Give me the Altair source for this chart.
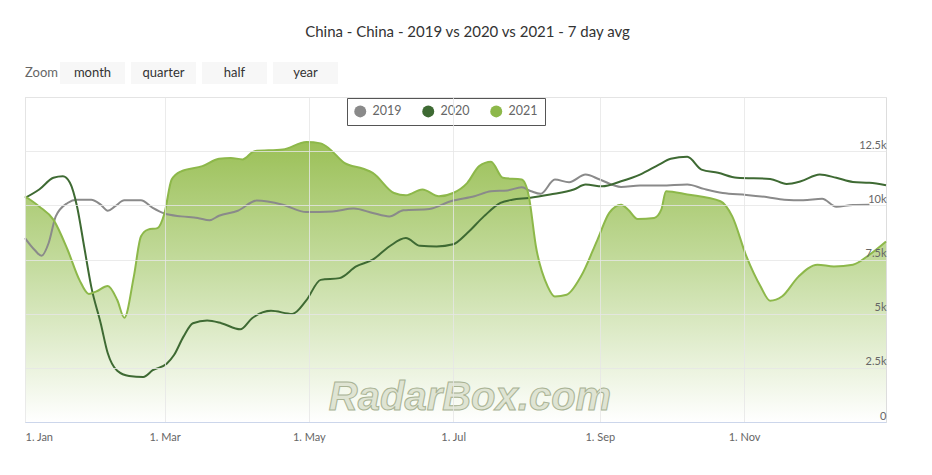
import altair as alt
import pandas as pd

TITLE = "China - China - 2019 vs 2020 vs 2021 - 7 day avg"
SERIES = ["2019", "2020", "2021"]
COLORS = ["#8a8a8a", "#3e6a33", "#8db84a"]
BASE_DATE = "2021-01-01"

# day offsets from 1 Jan and 7-day average flight counts
DAYS_2019 = [0, 4, 7, 10, 13, 18, 22, 28, 32, 35, 38, 42, 49, 54, 59, 66, 73, 78, 82, 90,
             98, 109, 119, 130, 139, 147, 154, 160, 171, 180, 190, 197, 204, 210, 214, 218,
             224, 230, 237, 243, 252, 260, 269, 280, 287, 295, 305, 314, 321, 329, 337, 343,
             350, 357]
VALS_2019 = [8490, 7950, 7670, 8260, 9490, 10110, 10260, 10260, 10030, 9750, 9950, 10230,
             10230, 9880, 9620, 9490, 9420, 9310, 9520, 9750, 10220, 10030, 9690, 9720, 9850,
             9650, 9490, 9770, 9830, 10190, 10420, 10650, 10690, 10830, 10650, 10530, 11190,
             11070, 11420, 11190, 10850, 10910, 10910, 10960, 10760, 10570, 10480, 10370,
             10260, 10230, 10300, 9930, 10020, 10030]

DAYS_2020 = [0, 6, 12, 16, 19, 22, 25, 28, 32, 35, 39, 44, 50, 54, 60, 63, 67, 71, 77, 83,
             91, 96, 104, 113, 119, 125, 133, 140, 147, 154, 161, 167, 174, 181, 187, 194,
             201, 206, 213, 222, 232, 237, 244, 252, 260, 268, 273, 280, 286, 293, 301, 315,
             322, 328, 336, 343, 350, 357, 364]
VALS_2020 = [10340, 10730, 11270, 11340, 11040, 9950, 8100, 6250, 4560, 3170, 2360, 2120,
             2080, 2390, 2700, 3090, 3940, 4560, 4680, 4560, 4280, 4790, 5130, 4990, 5630,
             6560, 6640, 7180, 7490, 8100, 8490, 8130, 8100, 8200, 8720, 9490, 10110, 10260,
             10340, 10500, 10730, 10960, 10880, 11110, 11420, 11880, 12150, 12240, 11650,
             11500, 11270, 11220, 10990, 11110, 11420, 11270, 11080, 11040, 10930]

DAYS_2021 = [0, 6, 12, 18, 23, 27, 30, 35, 39, 42, 46, 49, 52, 56, 59, 62, 66, 75, 82, 87,
             92, 97, 109, 119, 125, 129, 135, 143, 147, 156, 161, 168, 175, 181, 187, 192,
             197, 202, 210, 213, 216, 221, 224, 229, 235, 242, 247, 252, 255, 259, 266, 269,
             271, 280, 294, 299, 305, 311, 315, 320, 327, 335, 342, 350, 357, 364]
VALS_2021 = [10420, 9950, 9340, 7950, 6560, 5910, 6020, 6280, 5630, 4810, 6710, 8560, 8880,
             8950, 9650, 11190, 11570, 11810, 12150, 12190, 12120, 12500, 12580, 12920, 12860,
             12580, 11960, 11690, 11500, 10570, 10460, 10730, 10420, 10570, 11040, 11810,
             12010, 11270, 11190, 10420, 8100, 6250, 5790, 5870, 6710, 8410, 9650, 10030,
             9800, 9370, 9420, 9800, 10650, 10500, 10190, 9490, 7640, 6250, 5600, 5790, 6710,
             7260, 7180, 7260, 7720, 8330]

X_TICK_MONTHS = [1, 3, 5, 7, 9, 11]
Y_TICKS = [0, 2500, 5000, 7500, 10000, 12500, 15000]
ZOOM_LABEL = "Zoom"
ZOOM_BUTTONS = ["month", "quarter", "half", "year"]
WATERMARK = "RadarBox.com"


def frame(name, days, vals):
    base = pd.Timestamp(BASE_DATE)
    return pd.DataFrame({
        "series": name,
        "date": [base + pd.Timedelta(days=d) for d in days],
        "value": vals,
    })


df = pd.concat([
    frame("2019", DAYS_2019, VALS_2019),
    frame("2020", DAYS_2020, VALS_2020),
    frame("2021", DAYS_2021, VALS_2021),
], ignore_index=True)
df21 = df[df["series"] == "2021"]

FONT = "Lato"
W, H = 861, 325

x_scale = alt.Scale(domain=[alt.DateTime(year=2021, month=1, date=1),
                            alt.DateTime(year=2021, month=12, date=31)])
y_scale = alt.Scale(domain=[0, 15000], nice=False)

x_axis = alt.Axis(
    title=None, format="1. %b", labelFlush=True,
    values=[alt.DateTime(year=2021, month=m, date=1) for m in X_TICK_MONTHS],
    grid=True, gridColor="#e6e6e6", gridOpacity=0.8, ticks=False, zindex=1,
    domainColor="#ccd6eb", labelColor="#666666", labelFontSize=11, labelFont=FONT,
    labelPadding=9,
)
y_axis = alt.Axis(
    title=None, orient="right", values=Y_TICKS, grid=True, gridColor="#e6e6e6",
    gridOpacity=0.8, ticks=False, domain=False, labelAlign="right", labelPadding=0,
    labelBaseline="alphabetic", labelOffset=-3, zindex=1,
    labelColor="#666666", labelFontSize=11, labelFont=FONT,
    labelExpr="datum.value == 0 ? '0' : (datum.value >= 15000 ? '' : (datum.value/1000) + 'k')",
)

X = alt.X("date:T", scale=x_scale, axis=x_axis)
Y = alt.Y("value:Q", scale=y_scale, axis=y_axis)

gradient = alt.Gradient(
    gradient="linear", x1=0, y1=0, x2=0, y2=1,
    stops=[alt.GradientStop(offset=0, color="#9bc057"),
           alt.GradientStop(offset=0.45, color="#c5dca0"),
           alt.GradientStop(offset=1, color="#ffffff")],
)

area = alt.Chart(df21).mark_area(interpolate="monotone", color=gradient).encode(x=X, y=Y)

lines = alt.Chart(df).mark_line(interpolate="monotone").encode(
    x=X, y=Y,
    stroke=alt.Stroke("series:N", scale=alt.Scale(domain=SERIES, range=COLORS), legend=None),
    strokeWidth=alt.StrokeWidth("series:N", scale=alt.Scale(domain=SERIES, range=[2, 2, 1.5]),
                                legend=None),
    order=alt.Order("series:N", sort="descending"),
)

legend_layer = alt.Chart(df).transform_filter("false").mark_point(
    filled=True, shape="circle", size=144, opacity=1
).encode(
    x=X, y=Y,
    fill=alt.Fill("series:N", scale=alt.Scale(domain=SERIES, range=COLORS),
                  legend=alt.Legend(
                      title=None, orient="none", legendX=322, legendY=1,
                      direction="horizontal", strokeColor="#555555", fillColor="#ffffff",
                      padding=7, symbolType="circle", symbolSize=144, symbolStrokeWidth=0,
                      labelFont=FONT, labelFontSize=12.5, labelColor="#666666",
                      labelOffset=6, columnPadding=20,
                  )),
)

watermark = alt.Chart(pd.DataFrame({"t": [WATERMARK]})).mark_text(
    font="Liberation Sans", fontSize=40, fontWeight="bold", fontStyle="italic",
    fill="#dfe4d3", stroke="#a9b394", strokeWidth=1, align="center", baseline="alphabetic",
).encode(text="t:N", x=alt.value(445), y=alt.value(313))

# zoom buttons row above the plot
deco = []
zoom_text = alt.Chart(pd.DataFrame({"t": [ZOOM_LABEL]})).mark_text(
    font=FONT, fontSize=13, color="#666666", align="left", baseline="middle"
).encode(text="t:N", x=alt.value(0), y=alt.value(-24))
deco.append(zoom_text)
btn_left = 35
btn_w, btn_gap = 65, 6
for i, lbl in enumerate(ZOOM_BUTTONS):
    x0 = btn_left + i * (btn_w + btn_gap)
    d = pd.DataFrame({"t": [lbl]})
    rect = alt.Chart(d).mark_rect(color="#f7f7f7").encode(
        x=alt.value(x0), x2=alt.value(x0 + btn_w), y=alt.value(-35), y2=alt.value(-13))
    txt = alt.Chart(d).mark_text(
        font=FONT, fontSize=13, color="#333333", align="center", baseline="middle"
    ).encode(text="t:N", x=alt.value(x0 + btn_w / 2), y=alt.value(-24))
    deco += [rect, txt]

chart = alt.layer(area, lines, legend_layer, watermark, *deco).properties(
    width=W, height=H,
    padding={"left": 17, "top": 89, "right": 30, "bottom": 40},
    autosize=alt.AutoSizeParams(type="none"),
    title=alt.TitleParams(TITLE, font=FONT, fontSize=15, fontWeight="normal",
                          color="#333333", anchor="middle", dx=12, offset=22),
).resolve_scale(stroke="independent", fill="independent").configure_view(
    stroke=None
).configure(background="#ffffff")

chart.save("out.html", embed_options={"renderer": "svg", "actions": False})
